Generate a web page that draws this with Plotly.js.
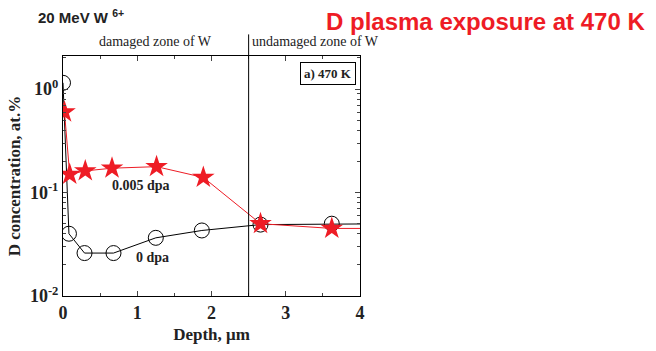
<!DOCTYPE html>
<html><head><meta charset="utf-8">
<script src="https://cdn.plot.ly/plotly-3.0.1.min.js"></script>
<style>body{margin:0;background:#fff}#c{width:656px;height:351px}</style>
</head><body><div id="c"></div>
<script>
const depth0 = [0.0, 0.08, 0.29, 0.68, 1.25, 1.87, 2.66, 3.62, 4.6];
const conc0 = [1.15, 0.040, 0.026, 0.026, 0.0365, 0.043, 0.049, 0.050, 0.050];
const depth005 = [0.02, 0.09, 0.3, 0.66, 1.26, 1.89, 2.66, 3.62, 4.6];
const conc005 = [0.60, 0.150, 0.162, 0.172, 0.178, 0.140, 0.050, 0.045, 0.045];
const boundary = 2.5;
const yTickVals = [0.01, 0.1, 1];
const yTickText = ['10<sup>-2</sup>', '10<sup>-1</sup>', '10<sup>0</sup>'];
const yMinorVals = [0.02,0.03,0.04,0.05,0.06,0.07,0.08,0.09,0.2,0.3,0.4,0.5,0.6,0.7,0.8,0.9,2];

const tf = 'Times New Roman, Liberation Serif, serif';
const traces = [
  {x: depth0, y: conc0, mode: 'lines+markers', type: 'scatter',
   line: {color: '#000', width: 1},
   marker: {symbol: 'circle-open', size: 15, color: '#000', line: {width: 1}},
   cliponaxis: true},
  {x: depth005, y: conc005, mode: 'lines+markers', type: 'scatter',
   line: {color: '#ee1c25', width: 1},
   marker: {symbol: 'star', size: 17, color: '#ee1c25', line: {width: 0}},
   cliponaxis: true}
];
const layout = {
  width: 656, height: 351, showlegend: false,
  margin: {l: 63, r: 296, t: 56, b: 55},
  paper_bgcolor: '#fff', plot_bgcolor: '#fff',
  xaxis: {range: [0, 4], tickvals: [0,1,2,3,4], ticks: 'inside', ticklen: 5, tickwidth: 1,
    minor: {tickvals: [0.5,1.5,2.5,3.5], ticks: 'inside', ticklen: 3, showgrid: false},
    showline: true, mirror: 'ticks', linecolor: '#000', linewidth: 1, showgrid: false, zeroline: false,
    tickfont: {family: tf, size: 18, color: '#222', weight: 'bold'},
    title: {text: 'Depth, μm', font: {family: tf, size: 17, color: '#222', weight: 'bold'}, standoff: 6}},
  yaxis: {type: 'log', range: [-2, 0.32], tickvals: yTickVals, ticktext: yTickText,
    ticks: 'inside', ticklen: 5, tickwidth: 1,
    minor: {tickvals: yMinorVals, ticks: 'inside', ticklen: 3, showgrid: false},
    showline: true, mirror: 'ticks', linecolor: '#000', linewidth: 1, showgrid: false, zeroline: false,
    tickfont: {family: tf, size: 18, color: '#222', weight: 'bold'},
    title: {text: 'D concentration, at.%', font: {family: tf, size: 17, color: '#222', weight: 'bold'}, standoff: 4}},
  shapes: [
    {type: 'line', xref: 'x', yref: 'paper', x0: boundary, x1: boundary, y0: 0, y1: 1.09,
     line: {color: '#000', width: 1}}
  ],
  annotations: [
    {text: 'damaged zone of W', xref: 'x', yref: 'paper', x: 1.25, y: 1.02, yanchor: 'bottom', showarrow: false,
     font: {family: tf, size: 14, color: '#222'}},
    {text: 'undamaged zone of W', xref: 'x', yref: 'paper', x: 2.52, y: 1.02, xanchor: 'left', yanchor: 'bottom', showarrow: false,
     font: {family: tf, size: 14, color: '#222'}},
    {text: 'a) 470 K', xref: 'paper', yref: 'paper', x: 0.985, y: 0.975, xanchor: 'right', yanchor: 'top', showarrow: false,
     bordercolor: '#000', borderwidth: 1, borderpad: 3, bgcolor: '#fff',
     font: {family: tf, size: 13, color: '#222', weight: 'bold'}},
    {text: '0.005 dpa', xref: 'x', yref: 'y', x: 1.05, y: -0.93, xanchor: 'center', showarrow: false,
     font: {family: tf, size: 14, color: '#222', weight: 'bold'}},
    {text: '0 dpa', xref: 'x', yref: 'y', x: 1.2, y: -1.63, xanchor: 'center', showarrow: false,
     font: {family: tf, size: 14, color: '#222', weight: 'bold'}},
    {text: '20 MeV W <sup>6+</sup>', xref: 'paper', yref: 'paper', x: -0.091, y: 1.1625, xanchor: 'left', yanchor: 'middle', showarrow: false,
     font: {family: 'Liberation Sans, Arial, sans-serif', size: 15, color: '#222', weight: 'bold'}},
    {text: 'D plasma exposure at 470 K', xref: 'paper', yref: 'paper', x: 0.88, y: 1.145, xanchor: 'left', yanchor: 'middle', showarrow: false,
     font: {family: 'Liberation Sans, Arial, sans-serif', size: 24, color: '#ee1c25', weight: 'bold'}}
  ]
};
Plotly.newPlot('c', traces, layout, {staticPlot: true});
</script></body></html>
